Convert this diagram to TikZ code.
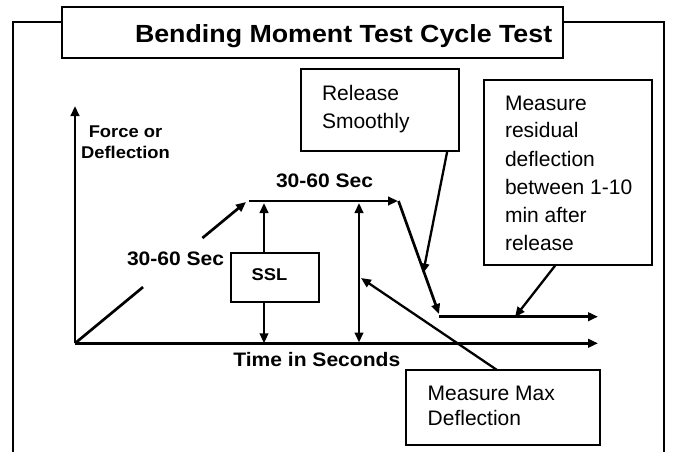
\documentclass[tikz,border=0pt]{standalone}
\usepackage{fontspec}
\setmainfont{Liberation Sans}
\newfontfamily\bfam[FakeStretch=1.08]{Liberation Sans}
\usetikzlibrary{arrows.meta,calc}
\tikzset{
  frameline/.style={line width=2pt},
  box/.style={draw, line width=2pt, inner sep=0pt, outer sep=0pt},
  plotline/.style={line width=2.7pt},
  conn/.style={line width=2.3pt},
  tip/.style={-{Triangle[length=10pt,width=8.5pt]}},
  dtip/.style={{Triangle[length=10pt,width=8.5pt]}-{Triangle[length=10pt,width=8.5pt]}},
  txt/.style={inner sep=0pt, outer sep=0pt, anchor=base west, font=\fontsize{21}{28}\selectfont},
  btxt/.style={inner sep=0pt, outer sep=0pt, anchor=base west, font=\bfam\bfseries\fontsize{19.5}{23}\selectfont},
}
\begin{document}
\begin{tikzpicture}[x=1pt,y=-1pt]
\useasboundingbox (0,0) rectangle (674,452);
% outer frame
\draw[frameline] (62,21.7) -- (13,21.7) -- (13,460);
\draw[frameline] (563,21.7) -- (664,21.7) -- (664,460);
% title
\node[box, minimum width=501pt, minimum height=50.5pt, anchor=north west] (title) at (62,7.5) {};
\node[btxt, font=\bfam\bfseries\fontsize{24.8}{28}\selectfont] (titletext) at (135,42.7) {Bending Moment Test Cycle Test};
% axes
\coordinate (O) at (75,343.3);
\coordinate (ytip) at (75,106);
\coordinate (xtip) at (598,343.3);
\draw[plotline, tip] (O) -- (ytip);
\draw[plotline, tip] (O) -- (xtip);
\node[inner sep=0pt, anchor=base, font=\bfam\bfseries\fontsize{17}{21}\selectfont] (ylabel) at (125.5,137.5)
  {\begin{tabular}[t]{@{}c@{}}Force or\\Deflection\end{tabular}};
\node[btxt] (xlabel) at (233.3,366.3) {Time in Seconds};
% ramp
\coordinate (rampend) at (246,202);
\draw[plotline] (O) -- ($(O)!0.398!(rampend)$);
\draw[plotline, tip] ($(O)!0.745!(rampend)$) -- (rampend);
\node[btxt] (ramplabel) at (127,265.7) {30-60 Sec};
% plateau
\coordinate (plat1) at (249.3,201);
\coordinate (plat2) at (398,201);
\draw[plotline, tip] (plat1) -- (plat2);
\node[btxt] (platlabel) at (276,187.7) {30-60 Sec};
% descent
\coordinate (drop1) at (398.5,201);
\coordinate (drop2) at (439,314);
\draw[plotline, tip] (drop1) -- (drop2);
% residual
\coordinate (res1) at (439,316.7);
\coordinate (res2) at (598,316.7);
\draw[plotline, tip] (res1) -- (res2);
% SSL
\node[box, minimum width=88pt, minimum height=49pt, anchor=north west] (ssl) at (231,252.7) {};
\node[btxt, font=\bfam\bfseries\fontsize{17}{21}\selectfont] (ssltext) at (251.7,280.7) {SSL};
\coordinate (sslup) at (264,203);
\coordinate (ssldown) at (264,343.3);
\draw[conn, tip] (sslup |- ssl.north) -- (sslup);
\draw[conn, tip] (ssldown |- ssl.south) -- (ssldown);
% max deflection double arrow
\coordinate (md1) at (359,203);
\coordinate (md2) at (359,342.5);
\draw[conn, dtip] (md1) -- (md2);
% Release box
\node[box, minimum width=158pt, minimum height=82pt, anchor=north west] (rel) at (301,69) {};
\node[txt] (reltext) at (322,100) {\begin{tabular}[t]{@{}l@{}}Release\\Smoothly\end{tabular}};
\coordinate (relA) at (447.3,151);
\coordinate (relB) at (423,273.5);
\draw[conn, tip] (relA) -- (relB);
% Residual box
\node[box, minimum width=168pt, minimum height=185pt, anchor=north west] (resbox) at (484,79.5) {};
\node[txt] (restext) at (505,110) {\begin{tabular}[t]{@{}l@{}}Measure\\residual\\deflection\\between 1-10\\min after\\release\end{tabular}};
\coordinate (resA) at (556,264.5);
\coordinate (resB) at (515,317);
\draw[conn, tip] (resA) -- (resB);
% Max deflection box
\node[box, minimum width=194pt, minimum height=75pt, anchor=north west] (maxbox) at (406,370) {};
\node[txt, font=\fontsize{21}{25}\selectfont] (maxtext) at (427.7,400) {\begin{tabular}[t]{@{}l@{}}Measure Max\\Deflection\end{tabular}};
\coordinate (maxA) at (497,370);
\coordinate (maxB) at (361,278);
\draw[conn, tip] (maxA) -- (maxB);
\end{tikzpicture}
\end{document}
